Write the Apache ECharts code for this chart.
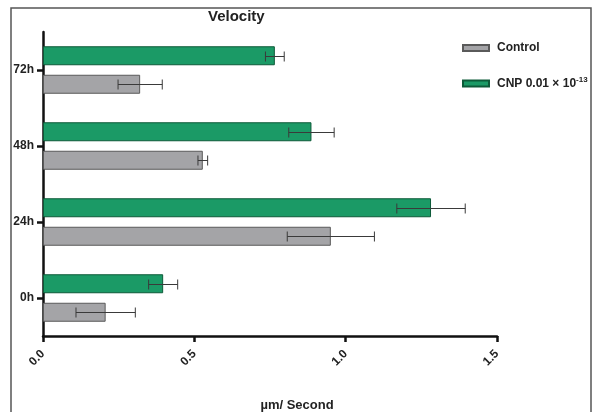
<!DOCTYPE html>
<html>
<head>
<meta charset="utf-8">
<script src="https://cdn.jsdelivr.net/npm/echarts@6/dist/echarts.min.js"></script>
<style>
  html, body { margin: 0; padding: 0; background: #fff; }
  #chart { width: 595px; height: 412px; }
</style>
</head>
<body>
<div id="chart"></div>
<script>
// Time points (bottom to top)
const categories = ['0h', '24h', '48h', '72h'];
// Mean velocity (µm/s) and error for each group
const controlMean = [0.207, 0.951, 0.528, 0.321];
const controlErr  = [0.098, 0.144, 0.016, 0.073];
const cnpMean     = [0.397, 1.282, 0.887, 0.766];
const cnpErr      = [0.048, 0.113, 0.075, 0.031];
// Value axis range
const xMin = 0, xMax = 1.5, xStep = 0.5;

const BAR_W = 19;
const BAR_GAP = '50%';
const FONT = 'Liberation Sans, Arial, sans-serif';

// Pixel offset of each series' bar from the category centre (0 = upper bar)
function barOffset(seriesPos) {
  const gap = BAR_W * 0.5;
  const total = BAR_W * 2 + gap;
  const start = -total / 2 + BAR_W / 2;
  return start + seriesPos * (BAR_W + gap);
}

function errorBars(means, errs, pos) {
  return {
    type: 'custom',
    z: 5,
    silent: true,
    encode: { x: 0, y: 1 },
    data: means.map((m, i) => [m, i, errs[i]]),
    renderItem: function (params, api) {
      const mean = api.value(0);
      const cat = api.value(1);
      const err = api.value(2);
      const lo = api.coord([mean - err, cat]);
      const hi = api.coord([mean + err, cat]);
      const y = Math.round(lo[1] + barOffset(pos)) + 0.5;
      const cap = 5;
      const style = { stroke: '#3a3a3a', lineWidth: 1 };
      return {
        type: 'group',
        children: [
          { type: 'line', shape: { x1: lo[0], y1: y, x2: hi[0], y2: y }, style: style },
          { type: 'line', shape: { x1: lo[0], y1: y - cap, x2: lo[0], y2: y + cap }, style: style },
          { type: 'line', shape: { x1: hi[0], y1: y - cap, x2: hi[0], y2: y + cap }, style: style }
        ]
      };
    }
  };
}

const chart = echarts.init(document.getElementById('chart'));
chart.setOption({
  backgroundColor: '#fff',
  animation: false,
  title: {
    text: 'Velocity',
    left: 203,
    top: 4,
    textStyle: { fontFamily: FONT, fontSize: 15, fontWeight: 'bold', color: '#222' }
  },
  legend: {
    orient: 'vertical',
    left: 457,
    top: 37,
    itemWidth: 26,
    itemHeight: 6,
    itemGap: 22,
    icon: 'rect',
    data: ['Control', 'CNP'],
    formatter: function (name) {
      return name === 'Control' ? 'Control' : '{b|CNP 0.01 × 10}{s|-13}';
    },
    textStyle: {
      fontFamily: FONT, fontSize: 12, fontWeight: 'bold', color: '#222', padding: [0, 0, 0, 3],
      rich: {
        b: { fontFamily: FONT, fontSize: 12, fontWeight: 'bold', color: '#222' },
        s: { fontFamily: FONT, fontSize: 8, fontWeight: 'bold', color: '#222', verticalAlign: 'top', padding: [0, 0, 7, 0] }
      }
    }
  },
  graphic: [
    {
      type: 'rect',
      shape: { x: 11, y: 8, width: 580, height: 420 },
      style: { fill: 'none', stroke: '#555', lineWidth: 1.5 },
      silent: true
    }
  ],
  grid: { left: 43, right: 98, top: 32, bottom: 76, outerBoundsMode: 'none' },
  xAxis: {
    type: 'value',
    min: xMin, max: xMax, interval: xStep,
    name: 'µm/ Second',
    nameLocation: 'middle',
    nameGap: 63,
    nameTextStyle: { fontFamily: FONT, fontSize: 13, fontWeight: 'bold', color: '#222', padding: [0, 0, 0, 54] },
    splitLine: { show: false },
    axisLine: { show: true, lineStyle: { color: '#111', width: 2.5 } },
    axisTick: { show: true, length: 6, lineStyle: { color: '#111', width: 2.5 } },
    axisLabel: {
      rotate: 45, margin: 16,
      fontFamily: FONT, fontSize: 12, fontWeight: 'bold', color: '#222',
      formatter: v => v.toFixed(1)
    }
  },
  yAxis: {
    type: 'category',
    data: categories,
    axisLine: { show: true, lineStyle: { color: '#111', width: 2.5 } },
    axisTick: { show: true, alignWithLabel: true, length: 6, lineStyle: { color: '#111', width: 2.5 } },
    axisLabel: { margin: 9, fontFamily: FONT, fontSize: 12, fontWeight: 'bold', color: '#222' }
  },
  series: [
    {
      name: 'CNP',
      type: 'bar',
      data: cnpMean,
      barWidth: BAR_W,
      barGap: BAR_GAP,
      itemStyle: { color: '#1b9a66', borderColor: '#0d5a38', borderWidth: 1 }
    },
    {
      name: 'Control',
      type: 'bar',
      data: controlMean,
      barWidth: BAR_W,
      barGap: BAR_GAP,
      itemStyle: { color: '#a4a4a7', borderColor: '#5a5a5a', borderWidth: 1 }
    },
    errorBars(cnpMean, cnpErr, 0),
    errorBars(controlMean, controlErr, 1)
  ]
});
</script>
</body>
</html>
